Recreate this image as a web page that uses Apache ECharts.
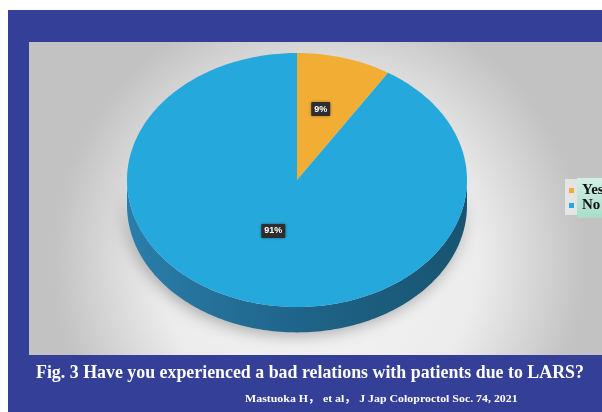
<!DOCTYPE html>
<html>
<head>
<meta charset="utf-8">
<script src="https://cdn.jsdelivr.net/npm/echarts@6/dist/echarts.min.js"></script>
<style>
  html, body { margin: 0; padding: 0; background: #fff; }
  #chart { width: 602px; height: 412px; }
</style>
</head>
<body>
<div id="chart"></div>
<script>
const categories = ["Yes", "No"];
const shares = [9, 91];
const sliceLabels = ["9%", "91%"];
const sliceColors = ["#f2ae34", "#25a9dc"];
const titleText = "Fig. 3 Have you experienced a bad relations with patients due to LARS?";
const sourceText = "Mastuoka H\uff0c et al\uff0c J Jap Coloproctol Soc. 74, 2021";

const total = shares.reduce((a, b) => a + b, 0);
const wallDepth = 0.2; // in y data units
const labelR = 0.5;

function sliceAngles(i) {
  let before = 0;
  for (let k = 0; k < i; k++) before += shares[k];
  const a0 = (before / total) * Math.PI * 2;
  const a1 = ((before + shares[i]) / total) * Math.PI * 2;
  return [a0, a1];
}

function arcPoints(api, a0, a1, drop) {
  const pts = [];
  const n = Math.max(2, Math.ceil((a1 - a0) / 0.02));
  for (let k = 0; k <= n; k++) {
    const a = a0 + ((a1 - a0) * k) / n;
    pts.push(api.coord([Math.sin(a), Math.cos(a) - drop]));
  }
  return pts;
}

function renderSlice(params, api) {
  const i = api.value(0);
  const [a0, a1] = sliceAngles(i);
  const children = [];
  // front wall, only where the rim faces the viewer
  const lo = Math.max(a0, Math.PI / 2);
  const hi = Math.min(a1, Math.PI * 1.5);
  if (hi > lo) {
    const top = arcPoints(api, lo, hi, 0);
    const bottom = arcPoints(api, lo, hi, wallDepth).reverse();
    children.push({
      type: "polygon",
      shape: { points: top.concat(bottom) },
      style: {
        fill: new echarts.graphic.LinearGradient(0, 0, 1, 0, [
          { offset: 0, color: "#2a7eab" },
          { offset: 0.5, color: "#1f6489" },
          { offset: 1, color: "#185471" }
        ]),
        shadowBlur: 16,
        shadowColor: "rgba(0,0,0,0.3)",
        shadowOffsetX: -2,
        shadowOffsetY: 3
      }
    });
  }
  const centre = api.coord([0, 0]);
  children.push({
    type: "polygon",
    shape: { points: [centre].concat(arcPoints(api, a0, a1, 0)) },
    style: { fill: sliceColors[i] }
  });
  const mid = (a0 + a1) / 2;
  const lp = api.coord([labelR * Math.sin(mid), labelR * Math.cos(mid)]);
  children.push({
    type: "text",
    x: lp[0],
    y: lp[1] - 10,
    style: {
      text: sliceLabels[i],
      fill: "#ffffff",
      font: "bold 9px 'Liberation Sans', Arial, sans-serif",
      align: "center",
      verticalAlign: "middle",
      backgroundColor: "#2e2e2e",
      padding: [3, 3, 2, 3],
      borderRadius: 1,
      shadowBlur: 3,
      shadowColor: "rgba(0,0,0,0.4)"
    }
  });
  return { type: "group", children: children };
}

const chart = echarts.init(document.getElementById("chart"));

chart.setOption({
  animation: false,
  backgroundColor: "#ffffff",
  graphic: [
    {
      type: "rect",
      z: -20,
      shape: { x: 8, y: 10, width: 600, height: 410 },
      style: { fill: "#343f98" }
    },
    {
      type: "rect",
      z: -19,
      shape: { x: 29, y: 42, width: 580, height: 313 },
      style: {
        fill: new echarts.graphic.RadialGradient(0.5, 0.7, 0.85, [
          { offset: 0, color: "#f6f6f6" },
          { offset: 0.6, color: "#ececec" },
          { offset: 1, color: "#c2c2c2" }
        ])
      }
    },
    {
      type: "rect",
      z: -18,
      shape: { x: 565, y: 179, width: 13, height: 36 },
      style: { fill: "rgba(255,255,255,0.55)" }
    },
    {
      type: "rect",
      z: -18,
      shape: { x: 577, y: 178, width: 30, height: 40 },
      style: {
        fill: new echarts.graphic.LinearGradient(0, 0, 0, 1, [
          { offset: 0, color: "#d3f0e6" },
          { offset: 1, color: "#a9ddca" }
        ])
      }
    },
    {
      type: "text",
      x: 36,
      y: 373,
      scaleX: 0.94,
      style: {
        text: titleText,
        fill: "#ffffff",
        font: "bold 19px 'Liberation Serif', 'Times New Roman', serif",
        verticalAlign: "middle"
      }
    },
    {
      type: "text",
      x: 245,
      y: 399,
      scaleX: 1.08,
      style: {
        text: sourceText,
        fill: "#ffffff",
        font: "bold 11px 'Liberation Serif', 'Noto Sans CJK JP', serif",
        verticalAlign: "middle"
      }
    }
  ],
  legend: {
    data: categories,
    orient: "vertical",
    left: 569,
    top: 183,
    padding: 0,
    itemWidth: 5,
    itemHeight: 5,
    itemGap: 0,
    icon: "rect",
    textStyle: {
      fontFamily: "'Liberation Serif', serif",
      fontWeight: "bold",
      fontSize: 15,
      lineHeight: 15,
      color: "#111",
      padding: [0, 0, 0, 3]
    }
  },
  grid: { left: 127, width: 340, top: 53, height: 254 },
  xAxis: { type: "value", min: -1, max: 1, show: false },
  yAxis: { type: "value", min: -1, max: 1, show: false },
  series: categories.map((name, i) => ({
    name: name,
    type: "custom",
    coordinateSystem: "cartesian2d",
    itemStyle: { color: sliceColors[i] },
    encode: { x: 0, y: 1 },
    data: [[i, shares[i] / total]],
    clip: false,
    renderItem: renderSlice
  }))
});
</script>
</body>
</html>
